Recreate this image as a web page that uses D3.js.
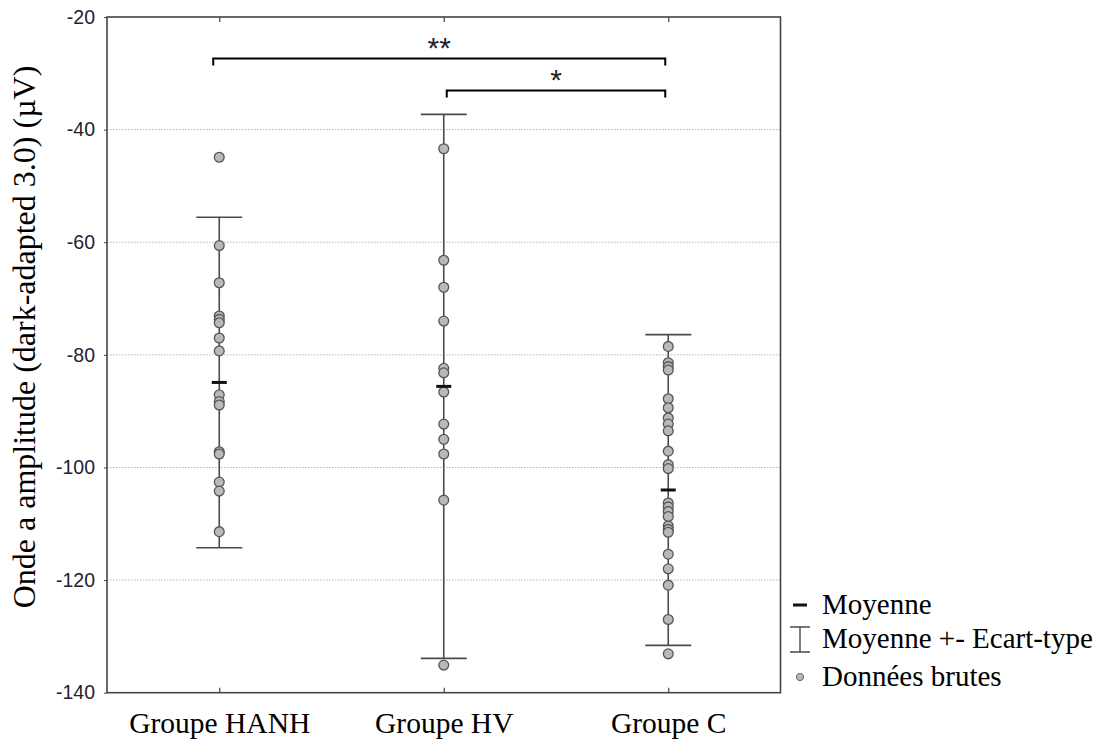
<!DOCTYPE html>
<html>
<head>
<meta charset="utf-8">
<script src="https://cdn.jsdelivr.net/npm/d3@7"></script>
<style>
  html, body { margin: 0; padding: 0; background: #fff; }
  svg { display: block; }
</style>
</head>
<body>
<svg id="chart" width="1105" height="740"></svg>
<script>
// Groups and raw measurements (µV)
const groups = ["Groupe HANH", "Groupe HV", "Groupe C"];

const valuesHANH = [-44.9, -60.6, -67.2, -73.1, -73.7, -74.3, -77.0, -79.3,
  -87.1, -88.3, -88.9, -97.2, -97.6, -102.6, -104.2, -111.4];
const valuesHV = [-43.4, -63.2, -68.0, -74.0, -82.4, -83.2, -86.6, -92.3,
  -95.0, -97.6, -105.8, -135.1];
const valuesC = [-78.5, -81.4, -82.1, -82.7, -87.8, -89.4, -91.2, -92.3, -93.5,
  -97.1, -99.5, -100.2, -106.3, -107.0, -107.8, -108.7, -110.4, -111.0, -111.5,
  -115.4, -118.0, -120.9, -127.0, -133.1];

// Group mean and standard deviation
const means = [-84.9, -85.6, -104.0];
const sds = [29.35, 48.3, 27.6];

// Y axis ticks
const yTicks = [-140, -120, -100, -80, -60, -40, -20];

// Significance brackets: [from group, to group, label]
const brackets = [
  { from: 0, to: 2, label: "**", level: 0 },
  { from: 1, to: 2, label: "*", level: 1 }
];

// Legend entries
const legendItems = ["Moyenne", "Moyenne +- Ecart-type", "Données brutes"];

const allValues = [valuesHANH, valuesHV, valuesC];

const svg = d3.select("#chart");
const plot = { left: 107, right: 780.5, top: 17, bottom: 692.7 };

const x = d3.scalePoint().domain(groups).range([plot.left, plot.right]).padding(0.5);
const y = d3.scaleLinear().domain([-140, -20]).range([plot.bottom, plot.top]);

const axisColor = "#444";
const barColor = "#4a4a4a";

// Horizontal dotted grid lines
svg.append("g")
  .selectAll("line")
  .data(yTicks.filter(t => t > -140 && t < -20))
  .join("line")
  .attr("x1", plot.left).attr("x2", plot.right)
  .attr("y1", d => y(d)).attr("y2", d => y(d))
  .attr("stroke", "#b8b8b8")
  .attr("stroke-width", 1)
  .attr("stroke-dasharray", "1.5,1.5");

// Left axis with tick labels
const yAxis = d3.axisLeft(y).tickValues(yTicks).tickSize(3).tickPadding(9).tickFormat(d3.format("d"));
const gy = svg.append("g").attr("transform", `translate(${plot.left},0)`).call(yAxis);
gy.select(".domain").remove();
gy.selectAll(".tick line").attr("stroke", axisColor);
gy.selectAll(".tick text")
  .attr("font-family", "'Liberation Sans', Arial, sans-serif")
  .attr("font-size", 19.5)
  .attr("fill", "#23232f")
  .text(d => d < 0 ? "-" + Math.abs(d) : d);

// Bottom axis with group labels
const xAxis = d3.axisBottom(x).tickSize(-5).tickPadding(20);
const gx = svg.append("g").attr("transform", `translate(0,${plot.bottom})`).call(xAxis);
gx.select(".domain").remove();
gx.selectAll(".tick line").attr("stroke", axisColor).attr("stroke-width", 1.2);
gx.selectAll(".tick text")
  .attr("font-family", "'Liberation Serif', 'Times New Roman', serif")
  .attr("font-size", 29.5)
  .attr("fill", "#000")
  .attr("dy", "0.68em");

// Top inward ticks
svg.append("g").attr("transform", `translate(0,${plot.top})`)
  .call(d3.axisTop(x).tickSize(-5).tickFormat(""))
  .call(g => g.select(".domain").remove())
  .call(g => g.selectAll(".tick line").attr("stroke", axisColor).attr("stroke-width", 1.2));

// Plot frame
svg.append("rect")
  .attr("x", plot.left).attr("y", plot.top)
  .attr("width", plot.right - plot.left).attr("height", plot.bottom - plot.top)
  .attr("fill", "none").attr("stroke", axisColor).attr("stroke-width", 1.6);

// Y axis title
svg.append("text")
  .attr("transform", `translate(35,${337}) rotate(-90)`)
  .attr("text-anchor", "middle")
  .attr("font-family", "'Liberation Serif', 'Times New Roman', serif")
  .attr("font-size", 32)
  .attr("fill", "#000")
  .text("Onde a amplitude (dark-adapted 3.0) (µV)");

// Error bars: mean ± SD
const capHalf = 23;
const eb = svg.append("g");
groups.forEach((g, i) => {
  const cx = x(g);
  const hi = means[i] + sds[i], lo = means[i] - sds[i];
  eb.append("line").attr("x1", cx).attr("x2", cx).attr("y1", y(hi)).attr("y2", y(lo))
    .attr("stroke", barColor).attr("stroke-width", 1.6);
  [hi, lo].forEach(v => {
    eb.append("line").attr("x1", cx - capHalf).attr("x2", cx + capHalf)
      .attr("y1", y(v)).attr("y2", y(v))
      .attr("stroke", barColor).attr("stroke-width", 1.6);
  });
});

// Raw data points
const pts = svg.append("g");
allValues.forEach((vals, i) => {
  pts.selectAll(null)
    .data(vals)
    .join("circle")
    .attr("cx", x(groups[i]))
    .attr("cy", d => y(d))
    .attr("r", 4.9)
    .attr("fill", "#b9b9b9")
    .attr("stroke", "#555")
    .attr("stroke-width", 1.3);
});

// Mean markers
svg.append("g").selectAll("line")
  .data(means)
  .join("line")
  .attr("x1", (d, i) => x(groups[i]) - 7.5)
  .attr("x2", (d, i) => x(groups[i]) + 7.5)
  .attr("y1", d => y(d)).attr("y2", d => y(d))
  .attr("stroke", "#111").attr("stroke-width", 3);

// Significance brackets
const bracketY = [58.5, 90.5];
const bg = svg.append("g");
brackets.forEach(b => {
  const x1 = x(groups[b.from]) - 6 + (b.from === 0 ? 0 : 9);
  const x2 = x(groups[b.to]) - 3;
  const by = bracketY[b.level];
  bg.append("path")
    .attr("d", `M${x1},${by + 7}V${by}H${x2}V${by + 7}`)
    .attr("fill", "none").attr("stroke", "#000").attr("stroke-width", 2);
  bg.append("text")
    .attr("x", (x1 + x2) / 2).attr("y", by - 1)
    .attr("text-anchor", "middle")
    .attr("font-family", "'Liberation Sans', Arial, sans-serif")
    .attr("font-size", 30)
    .attr("fill", "#222")
    .text(b.label);
});

// Legend
const lg = svg.append("g").attr("font-family", "'Liberation Serif', 'Times New Roman', serif")
  .attr("font-size", 29).attr("fill", "#000");
const rowY = [605, 639, 677];
legendItems.forEach((t, i) => {
  lg.append("text").attr("x", 822).attr("y", rowY[i]).attr("dy", "0.32em").text(t);
});
// mean symbol
lg.append("line").attr("x1", 793).attr("x2", 807).attr("y1", rowY[0]).attr("y2", rowY[0])
  .attr("stroke", "#111").attr("stroke-width", 3);
// error bar symbol
lg.append("path").attr("d", `M790,${rowY[1] - 12}H810M800,${rowY[1] - 12}V${rowY[1] + 13}M790,${rowY[1] + 13}H810`)
  .attr("fill", "none").attr("stroke", barColor).attr("stroke-width", 1.4);
// point symbol
lg.append("circle").attr("cx", 800).attr("cy", rowY[2]).attr("r", 3.6)
  .attr("fill", "#b9b9b9").attr("stroke", "#666").attr("stroke-width", 1);
</script>
</body>
</html>
